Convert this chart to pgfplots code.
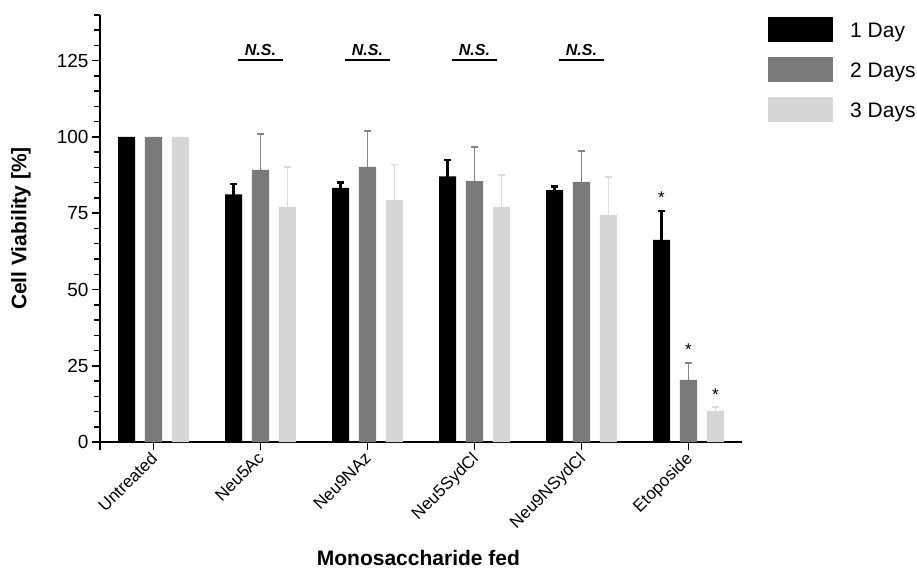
\documentclass[border=0pt]{standalone}
\usepackage{pgfplots}
\pgfplotsset{compat=1.18}
\usepackage{pgfplotstable}
\usepackage{fontspec}
\setmainfont{Liberation Sans}
\definecolor{dgray}{HTML}{7A7A7A}
\definecolor{lgray}{HTML}{D6D6D6}
\definecolor{egray}{HTML}{858585}
\definecolor{elgray}{HTML}{DCDCDC}

% x = bar position, y = mean, t = top of error bar
\pgfplotstableread{
x y t
-0.252 100 100
0.748 81.2 84.5
1.748 83.3 85.1
2.748 87.1 92.4
3.748 82.6 83.8
4.748 66.3 75.7
}\dayone
\pgfplotstableread{
x y t
0 100 100
1 89.2 101.0
2 90.2 101.9
3 85.5 96.6
4 85.3 95.5
5 20.4 26.0
}\daytwo
\pgfplotstableread{
x y t
0.252 100 100
1.252 77.1 90.2
2.252 79.3 91.0
3.252 77.1 87.5
4.252 74.4 86.9
5.252 10.2 11.4
}\daythree

\begin{document}
\begin{tikzpicture}
\path[use as bounding box] (0,0) rectangle (917pt,570pt);
\begin{axis}[
  at={(100pt,128pt)}, anchor=south west,
  scale only axis, width=642pt, height=427pt,
  xmin=-0.5, xmax=5.5, ymin=0, ymax=140,
  axis lines=left, axis line style={-, line width=1.5pt},
  /pgf/number format/assume math mode=true,
  xtick={0,1,2,3,4,5},
  xticklabels={Untreated,Neu5Ac,Neu9NAz,Neu5SydCl,Neu9NSydCl,Etoposide},
  extra x ticks={-0.5}, extra x tick labels={},
  x tick label style={xshift=-4pt, yshift=4pt, rotate=45, anchor=north east, font=\fontsize{17}{17}\selectfont},
  ytick={0,25,50,75,100,125},
  minor ytick={5,10,...,140},
  y tick label style={font=\fontsize{19}{19}\selectfont},
  tick style={black, line width=1.5pt},
  tick align=outside, major tick length=8pt, minor tick length=6pt,
  xlabel={\bfseries Monosaccharide fed},
  ylabel={\bfseries Cell Viability [\%]},
  xlabel style={font=\fontsize{21}{21}\selectfont, at={(axis description cs:0.496,-0.2717)}, anchor=center},
  ylabel style={font=\fontsize{21}{21}\selectfont, at={(axis description cs:-0.123,0.5)}, anchor=center},
  legend image code/.code={\fill[#1] (0pt,-11pt) rectangle (65pt,14pt);},
  legend style={at={(1.0405,0.995)}, anchor=north west, draw=none, fill=none,
    font=\fontsize{21}{21}\selectfont, row sep=15pt, column sep=15pt, inner sep=0pt},
  legend cell align=left,
  clip=false,
]
% error bars (upper half only; the lower part is hidden behind the bars)
\addplot[forget plot, ycomb, black, line width=2.2pt, mark=-, mark size=3.6pt,
  mark options={line width=2.2pt, solid}, skip coords between index={0}{1}]
  table[x=x, y=t]{\dayone};
\addplot[forget plot, ycomb, egray, line width=1.8pt, mark=-, mark size=3.6pt,
  mark options={line width=1.8pt, solid}, skip coords between index={0}{1}]
  table[x=x, y=t]{\daytwo};
\addplot[forget plot, ycomb, elgray, line width=1.8pt, mark=-, mark size=3.6pt,
  mark options={line width=1.8pt, solid}, skip coords between index={0}{1}]
  table[x=x, y=t]{\daythree};

\addplot[ybar, bar width=0.159, bar shift=0pt, fill=black, draw=none]
  table[x=x, y=y]{\dayone};
\addlegendentry{1 Day}
\addplot[ybar, bar width=0.159, bar shift=0pt, fill=dgray, draw=none]
  table[x=x, y=y]{\daytwo};
\addlegendentry{2 Days}
\addplot[ybar, bar width=0.159, bar shift=0pt, fill=lgray, draw=none]
  table[x=x, y=y]{\daythree};
\addlegendentry{3 Days}

\node[font=\bfseries\itshape\fontsize{16}{16}\selectfont] at (axis cs:1,128.6) {N.S.};
\node[font=\bfseries\itshape\fontsize{16}{16}\selectfont] at (axis cs:2,128.6) {N.S.};
\node[font=\bfseries\itshape\fontsize{16}{16}\selectfont] at (axis cs:3,128.6) {N.S.};
\node[font=\bfseries\itshape\fontsize{16}{16}\selectfont] at (axis cs:4,128.6) {N.S.};
\draw[line width=2pt] (axis cs:0.79,125.3) -- (axis cs:1.21,125.3);
\draw[line width=2pt] (axis cs:1.79,125.3) -- (axis cs:2.21,125.3);
\draw[line width=2pt] (axis cs:2.79,125.3) -- (axis cs:3.21,125.3);
\draw[line width=2pt] (axis cs:3.79,125.3) -- (axis cs:4.21,125.3);
\node[font=\fontsize{17}{17}\selectfont] at (axis cs:4.748,80) {*};
\node[font=\fontsize{17}{17}\selectfont] at (axis cs:5,30.2) {*};
\node[font=\fontsize{17}{17}\selectfont] at (axis cs:5.252,15.5) {*};
\end{axis}
\end{tikzpicture}
\end{document}
